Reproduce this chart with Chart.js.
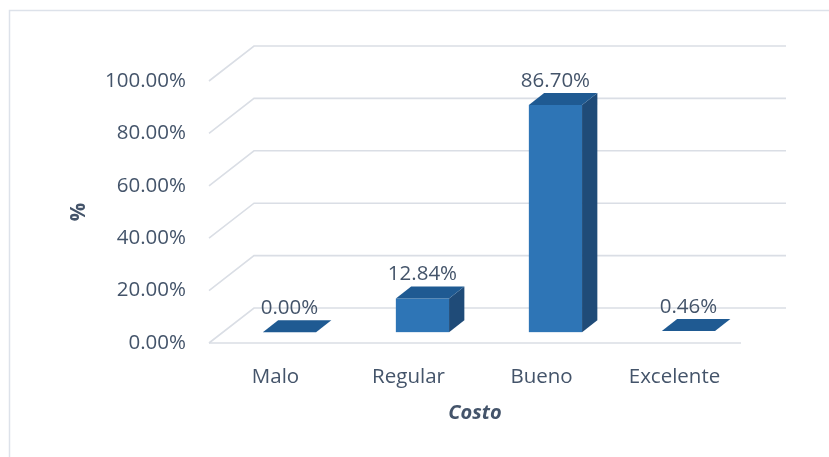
<!DOCTYPE html>
<html>
<head>
<meta charset="utf-8">
<script src="https://cdn.jsdelivr.net/npm/chart.js@4.4.1/dist/chart.umd.min.js"></script>
<style>
    html, body { margin: 0; padding: 0; background: #ffffff; }
    #wrap { width: 829px; height: 457px; position: relative; overflow: hidden; }
</style>
</head>
<body>
<div id="wrap"><canvas id="costo-chart" width="829" height="457"></canvas></div>
<script>
// Data
const categories = ['Malo', 'Regular', 'Bueno', 'Excelente'];
const percentages = [0.00, 12.84, 86.70, 0.46];
const yTicks = [0, 20, 40, 60, 80, 100];

// Look
const textColor = '#44546a';
const gridColor = '#dadee5';
const frontColor = '#2e75b6';
const topColor = '#1f5a92';
const sideColor = '#1f4b78';
const fontFamily = '"Open Sans", "Noto Sans", sans-serif';

// 3D depth of the floor / wall (pixels)
const depth = { dx: 45, dy: -35 };
const barFront = 0.31;
const barBack = 0.65;

// Panel border + back wall gridlines
const wallPlugin = {
    id: 'wall',
    beforeDraw(chart) {
        const ctx = chart.ctx;
        ctx.save();
        ctx.strokeStyle = '#dde2ea';
        ctx.lineWidth = 1.5;
        ctx.strokeRect(9.5, 10.5, 900, 900);
        ctx.restore();
    },
    beforeDatasetsDraw(chart) {
        const { ctx, chartArea, scales } = chart;
        const y = scales.y;
        ctx.save();
        ctx.strokeStyle = gridColor;
        ctx.lineWidth = 1.6;
        yTicks.forEach(v => {
            const py = y.getPixelForValue(v);
            ctx.beginPath();
            ctx.moveTo(chartArea.left, py);
            ctx.lineTo(chartArea.left + depth.dx, py + depth.dy);
            ctx.lineTo(chartArea.right + depth.dx, py + depth.dy);
            ctx.stroke();
        });
        // front edge of the floor
        const p0 = y.getPixelForValue(0);
        ctx.beginPath();
        ctx.moveTo(chartArea.left, p0);
        ctx.lineTo(chartArea.right, p0);
        ctx.stroke();
        ctx.restore();
    }
};

// Draw each bar as a box, using the positions Chart.js computed
const boxPlugin = {
    id: 'boxes',
    afterDatasetsDraw(chart) {
        const ctx = chart.ctx;
        const meta = chart.getDatasetMeta(0);
        const ox = barFront * depth.dx, oy = barFront * depth.dy;
        const bx = (barBack - barFront) * depth.dx, by = (barBack - barFront) * depth.dy;

        ctx.save();
        meta.data.forEach((el, i) => {
            const x0 = el.x - el.width / 2 + ox;
            const x1 = el.x + el.width / 2 + ox;
            const yTop = el.y + oy;
            const yBot = el.base + oy;
            const h = yBot - yTop;

            if (h > 2) {
                ctx.fillStyle = frontColor;
                ctx.fillRect(x0, yTop, x1 - x0, h);
                ctx.fillStyle = sideColor;
                ctx.beginPath();
                ctx.moveTo(x1, yTop);
                ctx.lineTo(x1 + bx, yTop + by);
                ctx.lineTo(x1 + bx, yBot + by);
                ctx.lineTo(x1, yBot);
                ctx.closePath();
                ctx.fill();
            }
            ctx.fillStyle = topColor;
            ctx.beginPath();
            ctx.moveTo(x0, yTop);
            ctx.lineTo(x1, yTop);
            ctx.lineTo(x1 + bx, yTop + by);
            ctx.lineTo(x0 + bx, yTop + by);
            ctx.closePath();
            ctx.fill();

            // value label
            ctx.fillStyle = textColor;
            ctx.font = '20.5px ' + fontFamily;
            ctx.textAlign = 'center';
            ctx.textBaseline = 'middle';
            ctx.fillText(percentages[i].toFixed(2) + '%', (x0 + x1) / 2, yTop + by - 12);
        });
        ctx.restore();
    }
};

const ctx = document.getElementById('costo-chart').getContext('2d');
new Chart(ctx, {
    type: 'bar',
    data: {
        labels: categories,
        datasets: [{
            data: percentages,
            backgroundColor: 'rgba(0,0,0,0)',
            borderWidth: 0,
            barPercentage: 0.4,
            categoryPercentage: 1
        }]
    },
    options: {
        responsive: false,
        animation: false,
        devicePixelRatio: 1,
        layout: {
            padding: { left: 63, top: 81, right: 88, bottom: 28 }
        },
        plugins: {
            legend: { display: false },
            tooltip: { enabled: false }
        },
        scales: {
            x: {
                grid: { display: false, drawTicks: false },
                border: { display: false },
                ticks: {
                    color: textColor,
                    padding: 22,
                    font: { family: fontFamily, size: 20.5 }
                },
                title: {
                    display: true,
                    text: 'Costo',
                    color: textColor,
                    font: { family: fontFamily, size: 20, weight: 'bold', style: 'italic' }
                },
                afterFit(scale) { scale.height = 86; }
            },
            y: {
                min: 0,
                max: 100,
                grid: { display: false, drawTicks: false },
                border: { display: false },
                afterBuildTicks(scale) {
                    scale.ticks = yTicks.map(v => ({ value: v }));
                },
                ticks: {
                    color: textColor,
                    padding: 23,
                    font: { family: fontFamily, size: 20.5 },
                    callback: v => v.toFixed(2) + '%'
                },
                title: {
                    display: true,
                    text: '%',
                    color: textColor,
                    font: { family: fontFamily, size: 20.5, weight: 'bold' }
                },
                afterFit(scale) { scale.width = 146; }
            }
        }
    },
    plugins: [wallPlugin, boxPlugin]
});
</script>
</body>
</html>
